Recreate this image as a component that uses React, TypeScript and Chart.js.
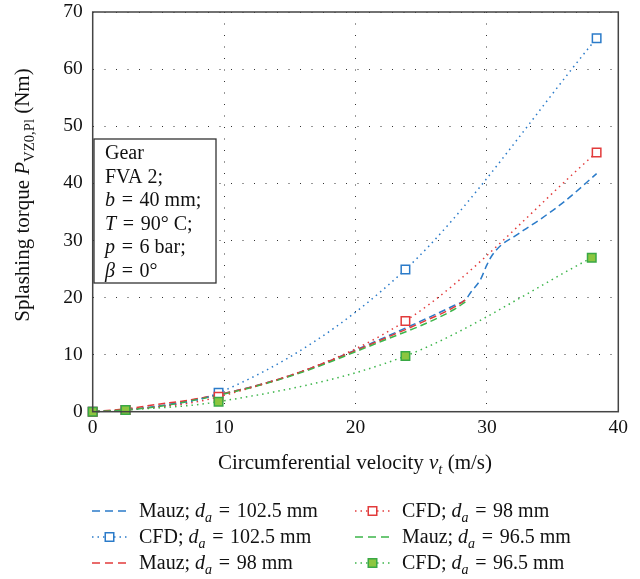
import React, { useEffect, useRef } from "react";
import { Chart, registerables } from "chart.js";

Chart.register(...registerables);

// ---------- data ----------
const X_TICKS = [0, 10, 20, 30, 40];
const Y_TICKS = [0, 10, 20, 30, 40, 50, 60, 70];

const MAUZ_X = [0, 2.5, 5, 7.5, 10, 12.5, 15, 17.5, 20, 22.5, 25, 27.5, 28.4];
const MAUZ_102_X = [...MAUZ_X, 28.8, 29.5, 30, 30.4, 31.1, 32.1, 32.8, 34, 36, 38.35];
const MAUZ_102 = [0, 0.35, 1.0, 2.0, 3.2, 4.6, 6.3, 8.4, 10.8, 13.3, 15.9, 18.6, 19.7, 21.0, 23.1, 25.7, 27.4, 29.2, 30.7, 31.8, 33.6, 37.0, 41.7];
const MAUZ_98 = [0, 0.5, 1.3, 2.1, 3.2, 4.6, 6.3, 8.4, 10.7, 13.1, 15.6, 18.3, 19.6];
const MAUZ_965 = [0, 0.3, 0.9, 1.9, 3.1, 4.5, 6.2, 8.2, 10.5, 12.8, 15.1, 17.9, 19.3];

const CFD_X = [0, 2.5, 9.58, 23.8, 38.35];
const CFD_965_X = [0, 2.5, 9.58, 23.8, 37.98];
const CFD_102 = [0, 0.3, 3.3, 24.9, 65.4];
const CFD_98 = [0, 0.3, 2.6, 15.9, 45.4];
const CFD_965 = [0, 0.3, 1.75, 9.75, 26.97];

const EQ = "\u2004=\u2004";
const X_TITLE = "Circumferential velocity";
const Y_TITLE = "Splashing torque";
const BOX_LINES = ["Gear", "FVA 2;", "b|" + EQ + "40 mm;", "T|" + EQ + "90° C;", "p|" + EQ + "6 bar;", "β|" + EQ + "0°"];

const BLUE = "#2b7bc9";
const RED = "#e23b3b";
const GREEN = "#3cb54a";
const GREEN_FILL = "#8cc63f";

const FONT = "'Liberation Serif', 'DejaVu Serif', serif";
const FS_TICK = 19.5;
const FS_BOX = 20;
const FS_LEG = 20;
const FS_TITLE = 21;

type Seg = { t: string; i?: boolean; sub?: boolean };

function richWidth(ctx: CanvasRenderingContext2D, segs: Seg[], size: number) {
  let w = 0;
  for (const s of segs) {
    ctx.font = `${s.i ? "italic " : ""}${s.sub ? size * 0.7 : size}px ${FONT}`;
    w += ctx.measureText(s.t).width;
  }
  return w;
}

function drawRich(ctx: CanvasRenderingContext2D, segs: Seg[], x: number, y: number, size: number, align: "left" | "center") {
  const w = richWidth(ctx, segs, size);
  let cx = align === "center" ? x - w / 2 : x;
  ctx.textAlign = "left";
  ctx.textBaseline = "alphabetic";
  for (const s of segs) {
    ctx.font = `${s.i ? "italic " : ""}${s.sub ? size * 0.7 : size}px ${FONT}`;
    ctx.fillText(s.t, cx, s.sub ? y + size * 0.25 : y);
    cx += ctx.measureText(s.t).width;
  }
}

const pts = (xs: number[], ys: number[]) => ys.map((y, i) => ({ x: xs[i], y }));

const lab = (head: string, val: string): Seg[] => [{ t: head + " " }, { t: "d", i: true }, { t: "a", i: true, sub: true }, { t: EQ + val }];

type LegendItem = { kind: "mauz" | "cfd"; color: string; fill: string; stroke: string; label: Seg[] };
const legendItems: LegendItem[][] = [
  [
    { kind: "mauz", color: BLUE, fill: "", stroke: BLUE, label: lab("Mauz;", "102.5 mm") },
    { kind: "cfd", color: BLUE, fill: "#fff", stroke: BLUE, label: lab("CFD;", "102.5 mm") },
    { kind: "mauz", color: RED, fill: "", stroke: RED, label: lab("Mauz;", "98 mm") },
  ],
  [
    { kind: "cfd", color: RED, fill: "#fff", stroke: RED, label: lab("CFD;", "98 mm") },
    { kind: "mauz", color: GREEN, fill: "", stroke: GREEN, label: lab("Mauz;", "96.5 mm") },
    { kind: "cfd", color: GREEN, fill: GREEN_FILL, stroke: "#39a845", label: lab("CFD;", "96.5 mm") },
  ],
];

const decorPlugin = {
  id: "decor",
  afterDraw(chart: any) {
    const ctx: CanvasRenderingContext2D = chart.ctx;
    const a = chart.chartArea;
    ctx.save();
    // frame
    ctx.strokeStyle = "#444";
    ctx.lineWidth = 1.5;
    ctx.setLineDash([]);
    ctx.strokeRect(a.left, a.top, a.right - a.left, a.bottom - a.top);

    // annotation box
    ctx.fillStyle = "#fff";
    ctx.fillRect(94, 139, 122, 144);
    ctx.strokeStyle = "#333";
    ctx.lineWidth = 1.3;
    ctx.strokeRect(94, 139, 122, 144);
    ctx.fillStyle = "#111";
    BOX_LINES.forEach((ln, i) => {
      const parts = ln.split("|");
      const segs: Seg[] = parts.length > 1 ? [{ t: parts[0], i: true }, { t: parts[1] }] : [{ t: parts[0] }];
      drawRich(ctx, segs, 105, 159 + i * 23.5, FS_BOX, "left");
    });

    // x title
    drawRich(ctx, [{ t: X_TITLE + " " }, { t: "v", i: true }, { t: "t", i: true, sub: true }, { t: " (m/s)" }], 355, 469, FS_TITLE, "center");

    // y title
    ctx.save();
    ctx.translate(29, 195);
    ctx.rotate(-Math.PI / 2);
    drawRich(ctx, [{ t: Y_TITLE + " " }, { t: "P", i: true }, { t: "VZ0,Pl", sub: true }, { t: " (Nm)" }], 0, 0, FS_TITLE, "center");
    ctx.restore();

    // legend
    const colX = [92, 355];
    const rowY = [511, 537, 563];
    legendItems.forEach((col, ci) => {
      col.forEach((it, ri) => {
        const x0 = colX[ci];
        const x1 = x0 + 35;
        const y = rowY[ri];
        ctx.save();
        ctx.strokeStyle = it.color;
        ctx.lineWidth = 1.5;
        ctx.setLineDash(it.kind === "mauz" ? [8, 5] : [1.5, 4]);
        ctx.beginPath();
        ctx.moveTo(x0, y);
        ctx.lineTo(x1, y);
        ctx.stroke();
        if (it.kind === "cfd") {
          ctx.setLineDash([]);
          ctx.fillStyle = it.fill;
          const s = 8.5;
          const cx = (x0 + x1) / 2;
          ctx.fillRect(cx - s / 2, y - s / 2, s, s);
          ctx.strokeStyle = it.stroke;
          ctx.strokeRect(cx - s / 2, y - s / 2, s, s);
        }
        ctx.restore();
        ctx.fillStyle = "#111";
        drawRich(ctx, it.label, x0 + 47, y + 6, FS_LEG, "left");
      });
    });
    ctx.restore();
  },
};

export default function App() {
  const ref = useRef<HTMLCanvasElement | null>(null);
  useEffect(() => {
    if (!ref.current) return;
    const mauzDs = (label: string, xs: number[], ys: number[], color: string, order: number) => ({
      label,
      data: pts(xs, ys),
      showLine: true,
      borderColor: color,
      borderWidth: 1.5,
      borderDash: [7, 4],
      pointRadius: 0,
      cubicInterpolationMode: "monotone" as const,
      order,
      clip: false as const,
    });
    const cfdDs = (label: string, xs: number[], ys: number[], color: string, fill: string, pStroke: string, order: number) => ({
      label,
      data: pts(xs, ys),
      showLine: true,
      borderColor: color,
      borderWidth: 1.5,
      borderDash: [1.5, 4],
      pointStyle: "rect" as const,
      pointRadius: 6,
      pointBorderWidth: 1.5,
      pointBackgroundColor: fill,
      pointBorderColor: pStroke,
      cubicInterpolationMode: "monotone" as const,
      order,
      clip: false as const,
    });
    const chart = new Chart(ref.current, {
      type: "scatter",
      data: {
        datasets: [
          mauzDs("Mauz; d_a = 102.5 mm", MAUZ_102_X, MAUZ_102, BLUE, 5),
          cfdDs("CFD; d_a = 102.5 mm", CFD_X, CFD_102, BLUE, "#fff", BLUE, 2),
          mauzDs("Mauz; d_a = 98 mm", MAUZ_X, MAUZ_98, RED, 4),
          cfdDs("CFD; d_a = 98 mm", CFD_X, CFD_98, RED, "#fff", RED, 1),
          mauzDs("Mauz; d_a = 96.5 mm", MAUZ_X, MAUZ_965, GREEN, 3),
          cfdDs("CFD; d_a = 96.5 mm", CFD_965_X, CFD_965, GREEN, GREEN_FILL, "#39a845", 0),
        ] as any,
      },
      options: {
        responsive: false,
        animation: false,
        devicePixelRatio: 1,
        layout: { padding: { left: 0.7, right: 21.7, top: 12, bottom: 137.3 } },
        plugins: { legend: { display: false }, tooltip: { enabled: false } },
        scales: {
          x: {
            type: "linear",
            min: 0,
            max: 40,
            afterFit: (s: any) => { s.height = 30; s.paddingLeft = 0; s.paddingRight = 0; },
            afterBuildTicks: (s: any) => { s.ticks = X_TICKS.map((v) => ({ value: v })); },
            ticks: { color: "#111", font: { family: FONT, size: FS_TICK }, padding: 4 },
            grid: { color: "#333", lineWidth: 1, drawTicks: false },
            border: { display: false, dash: [1, 10.5] },
          },
          y: {
            type: "linear",
            min: 0,
            max: 70,
            afterFit: (s: any) => { s.width = 92; s.paddingTop = 0; s.paddingBottom = 0; },
            afterBuildTicks: (s: any) => { s.ticks = Y_TICKS.map((v) => ({ value: v })); },
            ticks: { color: "#111", font: { family: FONT, size: FS_TICK }, padding: 10 },
            grid: { color: "#333", lineWidth: 1, drawTicks: false },
            border: { display: false, dash: [1, 10.5] },
          },
        },
      },
      plugins: [decorPlugin],
    });
    return () => chart.destroy();
  }, []);
  return (
    <div style={{ position: "absolute", left: 0, top: 0, width: 640, height: 579, background: "#fff" }}>
      <canvas ref={ref} width={640} height={579} style={{ display: "block" }} />
    </div>
  );
}
